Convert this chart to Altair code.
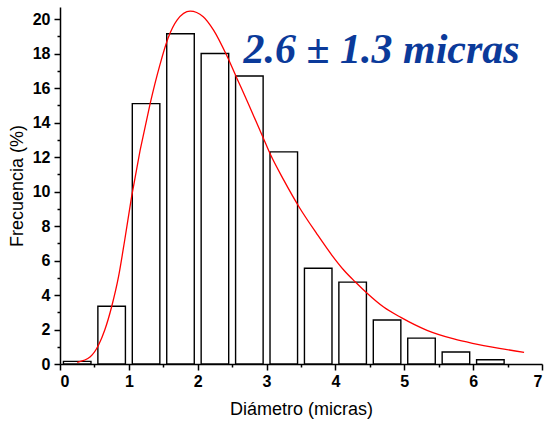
import altair as alt
import pandas as pd

# Histogram bins (micras) and frequencies (%)
bin_start = [0.05, 0.55, 1.05, 1.55, 2.05, 2.55, 3.05, 3.55, 4.05, 4.55, 5.05, 5.55, 6.05]
bin_end   = [0.45, 0.95, 1.45, 1.95, 2.45, 2.95, 3.45, 3.95, 4.45, 4.95, 5.45, 5.95, 6.45]
freq      = [0.15, 3.35, 15.1, 19.15, 18.0, 16.7, 12.3, 5.55, 4.75, 2.55, 1.5, 0.7, 0.25]

# Fitted curve
curve_x = [0.25, 0.44, 0.56, 0.65, 0.75, 0.85, 0.94, 1.04, 1.31, 1.45, 1.57, 1.70, 1.89,
           2.08, 2.23, 2.42, 2.57, 2.74, 2.955, 3.05, 3.25, 3.47, 3.73, 3.95, 4.12, 4.29,
           4.46, 4.70, 4.95, 5.33, 5.72, 5.99, 6.38, 6.74]
curve_y = [0.1, 0.42, 1.1, 1.97, 3.32, 5.06, 7.19, 9.7, 15.11, 17.33, 18.9, 19.94, 20.46,
           20.14, 19.36, 17.9, 16.56, 15.05, 13.08, 12.2, 10.66, 9.12, 7.55, 6.3, 5.45, 4.75,
           4.1, 3.3, 2.7, 1.95, 1.45, 1.2, 0.91, 0.68]

x_ticks = [i * 0.5 for i in range(15)]
y_ticks = list(range(21))

annot_text = ["2.6 ± 1.3 micras"]
annot_x = [4.67]
annot_y = [17.45]

bars_df = pd.DataFrame({"x0": bin_start, "x1": bin_end, "f": freq})
curve_df = pd.DataFrame({"x": curve_x, "y": curve_y})
annot_df = pd.DataFrame({"t": annot_text, "x": annot_x, "y": annot_y})

xscale = alt.Scale(domain=[0, 7], nice=False, zero=False)
yscale = alt.Scale(domain=[0, 20.7], nice=False)

common = dict(
    tickCount=100, labelOverlap=False, labelSeparation=0, grid=False,
    domainColor="black", domainWidth=1.5, tickColor="black", tickWidth=1.5,
    labelFont="Liberation Sans", labelFontSize=16, labelFontWeight="bold", labelColor="black",
    titleFont="Liberation Sans", titleFontSize=18, titleFontWeight="normal", titleColor="black",
)

xaxis = alt.Axis(
    title="Diámetro (micras)",
    values=x_ticks,
    labelExpr="datum.value % 1 ? '' : format(datum.value, 'd')",
    tickSize={"condition": {"test": "datum.value % 1 !== 0", "value": 3}, "value": 6},
    labelPadding=3, titlePadding=11,
    **common,
)
yaxis = alt.Axis(
    title="Frecuencia (%)",
    values=y_ticks,
    labelExpr="datum.value % 2 ? '' : format(datum.value, 'd')",
    tickSize={"condition": {"test": "datum.value % 2 !== 0", "value": 3}, "value": 6},
    labelPadding=4, titlePadding=6,
    **common,
)

bars = alt.Chart(bars_df).mark_rect(
    fill="white", stroke="black", strokeWidth=1.4
).encode(
    x=alt.X("x0:Q", scale=xscale, axis=xaxis),
    x2="x1:Q",
    y=alt.Y("f:Q", scale=yscale, axis=yaxis),
    y2=alt.datum(0),
)

curve = alt.Chart(curve_df).mark_line(
    color="#ff0000", strokeWidth=1.3, interpolate="monotone"
).encode(
    x=alt.X("x:Q", scale=xscale),
    y=alt.Y("y:Q", scale=yscale),
)

annot = alt.Chart(annot_df).mark_text(
    font="Liberation Serif", fontSize=42, fontStyle="italic", fontWeight="bold",
    color="#0B3A9A", align="center", baseline="alphabetic"
).encode(
    x=alt.X("x:Q", scale=xscale),
    y=alt.Y("y:Q", scale=yscale),
    text="t:N",
)

chart = alt.layer(bars, curve, annot).properties(
    width=482, height=357,
    autosize=alt.AutoSizeParams(type="none"),
    padding={"left": 60, "top": 7, "right": 4, "bottom": 61},
    background="white",
).configure_view(stroke=None)

chart.save("out.html", embed_options={"renderer": "svg", "actions": False})
